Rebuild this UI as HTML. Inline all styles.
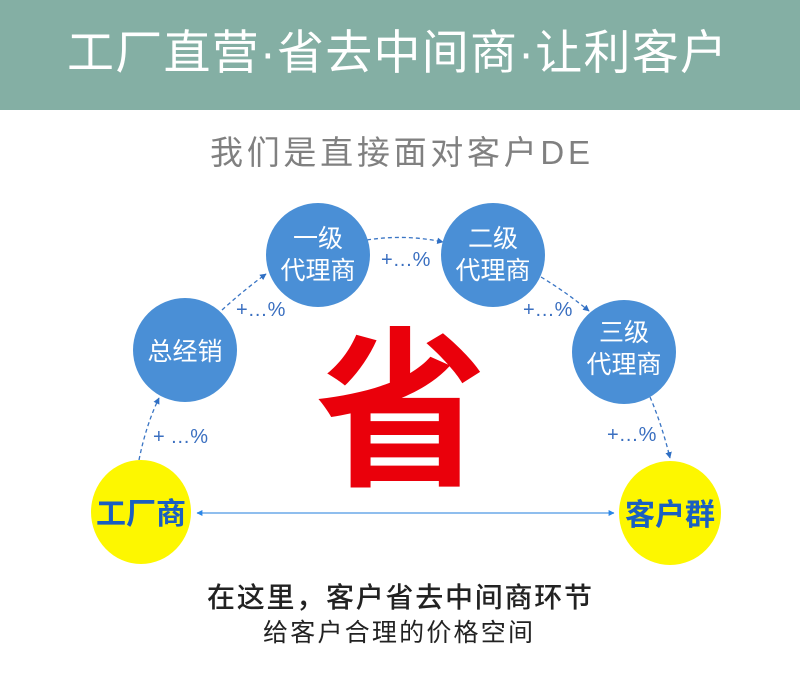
<!DOCTYPE html>
<html><head><meta charset="utf-8"><style>
html,body{margin:0;padding:0;background:#fff;}
body{width:800px;height:697px;overflow:hidden;position:relative;font-family:"Liberation Sans","Noto Sans CJK SC",sans-serif;}
</style></head><body>
<svg width="800" height="697" viewBox="0 0 800 697" xmlns="http://www.w3.org/2000/svg" style="position:absolute;left:0;top:0">
<defs>
<marker id="a" viewBox="0 0 10 10" refX="9" refY="5" markerWidth="5" markerHeight="5" orient="auto"><path d="M0,0 L10,5 L0,10z" fill="#2f6fc4"/></marker>
<marker id="b" viewBox="0 0 10 10" refX="9" refY="5" markerWidth="4" markerHeight="4" orient="auto-start-reverse"><path d="M0,0 L10,5 L0,10z" fill="#2a86e8"/></marker>
</defs>
<rect x="0" y="0" width="800" height="110" fill="#84afa4"/>
<text x="67" y="69" textLength="660" lengthAdjust="spacing" font-family="Noto Sans CJK SC, sans-serif" font-size="47" fill="#fff">工厂直营<tspan font-family="Liberation Sans">·</tspan>省去中间商<tspan font-family="Liberation Sans">·</tspan>让利客户</text>
<text x="210" y="164" textLength="380" lengthAdjust="spacing" font-family="Liberation Sans, Noto Sans CJK SC, sans-serif" font-size="33" fill="#808080">我们是直接面对客户DE</text>

<g fill="none" stroke="#3a75c4" stroke-width="1.3" stroke-dasharray="4,3">
<path d="M139,460 Q146,425 159,398" marker-end="url(#a)"/>
<path d="M222,310 Q244,290 266,274" marker-end="url(#a)"/>
<path d="M367,240 Q405,234 443,242" marker-end="url(#a)"/>
<path d="M541,277 Q566,292 589,311" marker-end="url(#a)"/>
<path d="M650,397 Q662,425 670,458" marker-end="url(#a)"/>
</g>
<g font-family="Liberation Sans, sans-serif" font-size="20" fill="#3a6fc0">
<text x="153" y="443">+ …%</text>
<text x="236" y="316">+…%</text>
<text x="381" y="266">+…%</text>
<text x="523" y="316">+…%</text>
<text x="607" y="441">+…%</text>
</g>

<g fill="#4a8fd6">
<circle cx="185" cy="350" r="52"/>
<circle cx="318" cy="255" r="52"/>
<circle cx="493" cy="255" r="52"/>
<circle cx="624" cy="352" r="52"/>
</g>
<g font-family="Noto Sans CJK SC, sans-serif" font-size="25" fill="#fff" text-anchor="middle">
<text x="185" y="360">总经销</text>
<text x="318" y="247">一级</text>
<text x="318" y="279">代理商</text>
<text x="493" y="247">二级</text>
<text x="493" y="279">代理商</text>
<text x="624" y="341">三级</text>
<text x="624" y="373">代理商</text>
</g>

<ellipse cx="141" cy="512" rx="50" ry="52" fill="#fdf700"/>
<ellipse cx="670" cy="513" rx="51" ry="52" fill="#fdf700"/>
<g font-family="Noto Sans CJK SC, sans-serif" font-size="30" font-weight="bold" fill="#1a5fc0" text-anchor="middle">
<text x="141" y="524">工厂商</text>
<text x="670" y="525">客户群</text>
</g>
<line x1="197" y1="513" x2="614" y2="513" stroke="#6aa8e8" stroke-width="1.5" marker-start="url(#b)" marker-end="url(#b)"/>

<text x="401" y="472" text-anchor="middle" font-family="Noto Sans CJK SC, sans-serif" font-size="172" font-weight="bold" fill="#ea000b">省</text>

<text x="207" y="607" textLength="385" lengthAdjust="spacing" font-family="Noto Sans CJK SC, sans-serif" font-size="28" font-weight="500" fill="#222">在这里，客户省去中间商环节</text>
<text x="263" y="641" textLength="270" lengthAdjust="spacing" font-family="Noto Sans CJK SC, sans-serif" font-size="25" fill="#222">给客户合理的价格空间</text>
</svg>
</body></html>
